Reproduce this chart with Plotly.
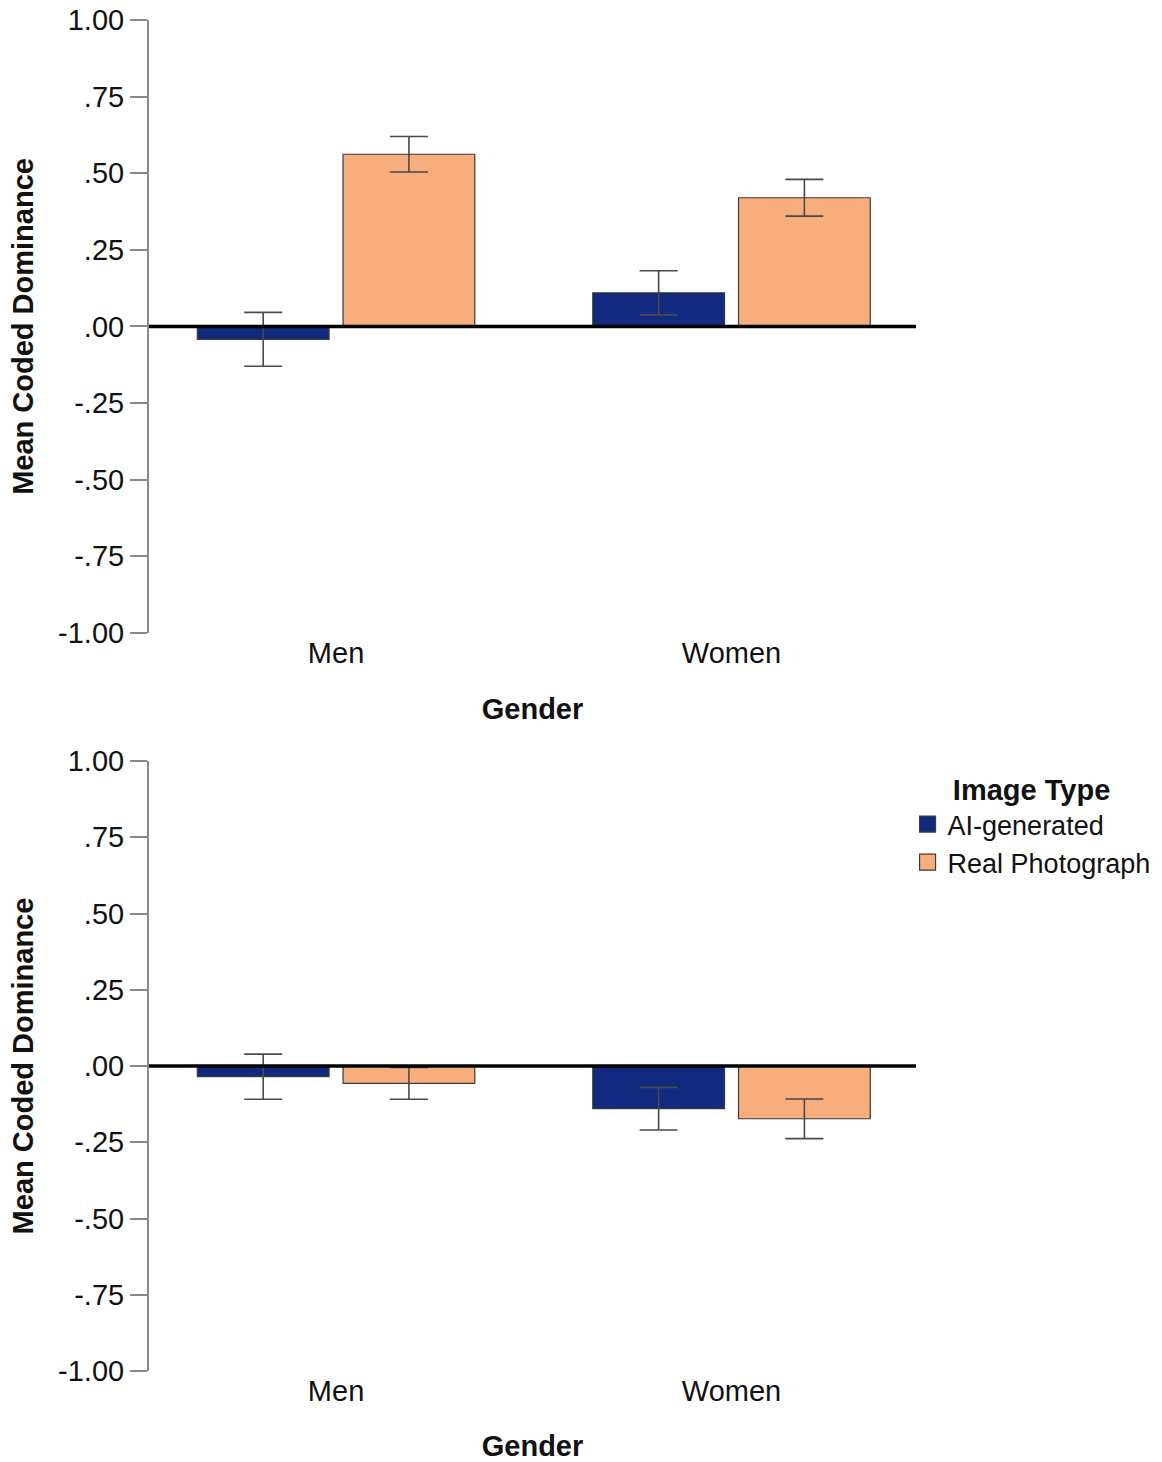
import plotly.graph_objects as go
from plotly.subplots import make_subplots

# ---- data ----
categories = ["Men", "Women"]
series_names = ["AI-generated", "Real Photograph"]

top_ai = [-0.042, 0.110]
top_ai_err = [0.088, 0.072]
top_real = [0.562, 0.420]
top_real_err = [0.058, 0.060]

bot_ai = [-0.035, -0.140]
bot_ai_err = [0.074, 0.070]
bot_real = [-0.057, -0.173]
bot_real_err = [0.052, 0.065]

y_tickvals = [-1.0, -0.75, -0.5, -0.25, 0.0, 0.25, 0.5, 0.75, 1.0]
y_ticktext = ["-1.00", "-.75", "-.50", "-.25", ".00", ".25", ".50", ".75", "1.00"]

# ---- styles ----
AI_COLOR = "#112a7f"
REAL_COLOR = "#f8ae7c"
EDGE = "#3a3a3a"
ERR = "#4a4a4a"
FONT = "Liberation Sans, Arial, sans-serif"
colors = [AI_COLOR, REAL_COLOR]

fig = make_subplots(rows=2, cols=1)

panels = [
    (1, top_ai, top_ai_err, top_real, top_real_err),
    (2, bot_ai, bot_ai_err, bot_real, bot_real_err),
]
for row, ai, ai_e, real, real_e in panels:
    for name, vals, errs, col in [(series_names[0], ai, ai_e, AI_COLOR),
                                  (series_names[1], real, real_e, REAL_COLOR)]:
        fig.add_trace(go.Bar(
            x=categories, y=vals, name=name, showlegend=False,
            marker=dict(color=col, line=dict(color=EDGE, width=1.2)),
            error_y=dict(type="data", array=errs, color=ERR, thickness=1.6, width=19),
            legendgroup=name,
        ), row=row, col=1)

# legend entries (square swatches, larger than default bar swatches)
for name, col in zip(series_names, colors):
    fig.add_trace(go.Scatter(
        x=[None], y=[None], mode="markers", name=name, legendgroup=name,
        marker=dict(symbol="square", size=16, color=col, line=dict(color=EDGE, width=1.2)),
        showlegend=True, hoverinfo="skip",
    ), row=2, col=1)

top_dom = [0.5463, 1.0]
bot_dom = [0.0, 0.4515]

xaxis_common = dict(
    range=[-0.473, 1.4665], showline=False, showgrid=False, zeroline=False,
    ticks="", automargin=False,
    tickfont=dict(family=FONT, size=29, color="#111"),
    title=dict(text="Gender", font=dict(family=FONT, size=29, color="#111", weight="bold"), standoff=30),
)
yaxis_common = dict(
    range=[-1, 1], tickvals=y_tickvals, ticktext=y_ticktext,
    showline=True, linecolor="#8a8a8a", linewidth=2,
    ticks="outside", ticklen=17, tickcolor="#8a8a8a", tickwidth=1.5,
    showgrid=False, zeroline=False, automargin=False,
    tickfont=dict(family=FONT, size=29, color="#111"),
    title=dict(text="Mean Coded Dominance", font=dict(family=FONT, size=29, color="#111", weight="bold"), standoff=16),
)

fig.update_layout(
    width=1162, height=1462,
    margin=dict(l=149, r=246, t=20, b=91, autoexpand=False),
    paper_bgcolor="white", plot_bgcolor="white",
    barmode="group", bargap=0.263, bargroupgap=0.096,
    xaxis=dict(**xaxis_common, domain=[0, 1]),
    xaxis2=dict(**xaxis_common, domain=[0, 1]),
    yaxis=dict(**yaxis_common, domain=top_dom),
    yaxis2=dict(**yaxis_common, domain=bot_dom),
    legend=dict(
        x=0.989, y=0.4505, xanchor="left", yanchor="top",
        title=dict(text="Image Type", side="top center",
                   font=dict(family=FONT, size=29, color="#111", weight="bold")),
        font=dict(family=FONT, size=27, color="#111"),
        tracegroupgap=0, itemsizing="trace", bgcolor="rgba(0,0,0,0)",
    ),
    showlegend=True,
)

# zero reference lines drawn above the bars
for xr, yr in [("x domain", "y"), ("x2 domain", "y2")]:
    fig.add_shape(type="line", xref=xr, yref=yr, x0=0, x1=1, y0=0, y1=0,
                  line=dict(color="black", width=3.5), layer="above")

fig.write_html("out.html")
